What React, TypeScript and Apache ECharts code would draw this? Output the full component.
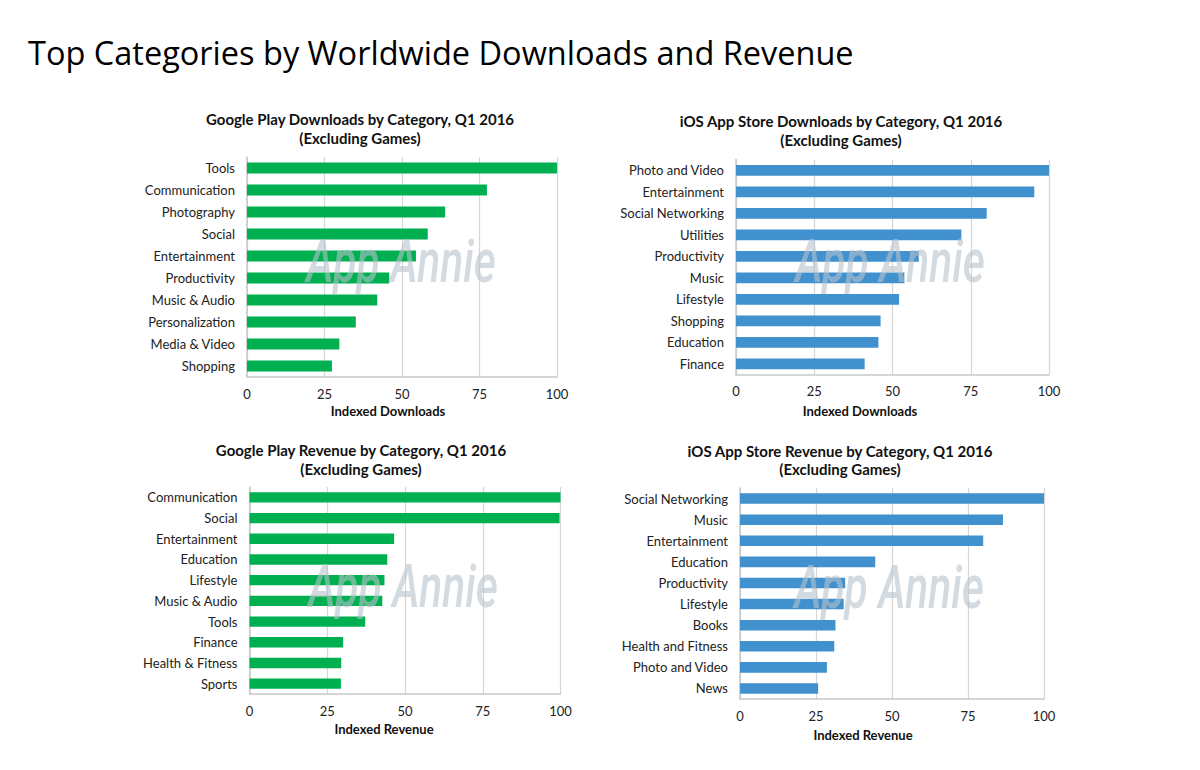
import React, { useEffect, useRef } from "react";
import * as echarts from "echarts";

const mainTitle = "Top Categories by Worldwide Downloads and Revenue";

const gpDlCats = ["Tools", "Communication", "Photography", "Social", "Entertainment", "Productivity", "Music & Audio", "Personalization", "Media & Video", "Shopping"];
const gpDlVals = [100, 77.4, 63.9, 58.3, 54.5, 45.9, 42.0, 35.1, 29.8, 27.4];

const iosDlCats = ["Photo and Video", "Entertainment", "Social Networking", "Utilities", "Productivity", "Music", "Lifestyle", "Shopping", "Education", "Finance"];
const iosDlVals = [100, 95.3, 80.1, 72.0, 58.4, 53.8, 52.1, 46.2, 45.5, 41.1];

const gpRevCats = ["Communication", "Social", "Entertainment", "Education", "Lifestyle", "Music & Audio", "Tools", "Finance", "Health & Fitness", "Sports"];
const gpRevVals = [100, 99.7, 46.5, 44.3, 43.4, 42.7, 37.2, 30.1, 29.5, 29.4];

const iosRevCats = ["Social Networking", "Music", "Entertainment", "Education", "Productivity", "Lifestyle", "Books", "Health and Fitness", "Photo and Video", "News"];
const iosRevVals = [100, 86.5, 80.0, 44.5, 34.6, 34.1, 31.4, 31.0, 28.6, 25.7];

const xMin = 0;
const xMax = 100;
const xStep = 25;

const panelTitles = [
  "Google Play Downloads by Category, Q1 2016\n(Excluding Games)",
  "iOS App Store Downloads by Category, Q1 2016\n(Excluding Games)",
  "Google Play Revenue by Category, Q1 2016\n(Excluding Games)",
  "iOS App Store Revenue by Category, Q1 2016\n(Excluding Games)",
];
const axisNames = ["Indexed Downloads", "Indexed Downloads", "Indexed Revenue", "Indexed Revenue"];

const GREEN = "#00b050";
const BLUE = "#4191cf";

const panels = [
  { cats: gpDlCats, vals: gpDlVals, color: GREEN, grid: { left: 247, top: 157, width: 310, height: 220 }, titleX: 360, titleY: 128.5, nameX: 388, nameY: 410.5, wmX: 401, wmY: 262 },
  { cats: iosDlCats, vals: iosDlVals, color: BLUE, grid: { left: 736, top: 159.5, width: 313, height: 215 }, titleX: 841, titleY: 130.5, nameX: 860, nameY: 411, wmX: 890, wmY: 262 },
  { cats: gpRevCats, vals: gpRevVals, color: GREEN, grid: { left: 249.5, top: 487, width: 311, height: 207 }, titleX: 361, titleY: 459.5, nameX: 384, nameY: 728.5, wmX: 403, wmY: 587 },
  { cats: iosRevCats, vals: iosRevVals, color: BLUE, grid: { left: 740, top: 488, width: 304, height: 211 }, titleX: 840, titleY: 460, nameX: 863, nameY: 735, wmX: 889, wmY: 588 },
];

const FONT = "Lato, 'Open Sans', sans-serif";

export default function App() {
  const ref = useRef<HTMLDivElement>(null);
  useEffect(() => {
    if (!ref.current) return;
    const chart = echarts.init(ref.current, null, { renderer: "svg" });
    const graphics: any[] = [
      {
        type: "text",
        x: 28,
        y: 52,
        style: { text: mainTitle, font: "normal 32.5px 'Open Sans', sans-serif", fill: "#000", textVerticalAlign: "middle" },
      },
    ];
    panels.forEach((p, i) => {
      graphics.push({
        type: "text",
        x: p.titleX,
        y: p.titleY,
        style: { text: panelTitles[i], font: `bold 15px ${FONT}`, fill: "#111", textAlign: "center", textVerticalAlign: "middle", lineHeight: 18.5 },
      });
      graphics.push({
        type: "text",
        x: p.nameX,
        y: p.nameY,
        style: { text: axisNames[i], font: `bold 13px ${FONT}`, fill: "#111", textAlign: "center", textVerticalAlign: "middle" },
      });
      graphics.push({
        type: "text",
        x: p.wmX,
        y: p.wmY,
        scaleX: 0.71,
        z: 100,
        silent: true,
        style: { text: "App Annie", font: "italic 500 60px Roboto, sans-serif", fill: "#b6c1cb", opacity: 0.6, textAlign: "center", textVerticalAlign: "middle" },
      });
    });

    const option: any = {
      animation: false,
      backgroundColor: "#fff",
      grid: panels.map((p) => ({ ...p.grid, containLabel: false })),
      xAxis: panels.map((p, i) => ({
        type: "value",
        gridIndex: i,
        min: xMin,
        max: xMax,
        interval: xStep,
        axisLine: { show: true, lineStyle: { color: "#c8c8c8", width: 1.5 } },
        axisTick: { show: false },
        splitLine: { show: true, lineStyle: { color: "#d6d6d6", width: 1.2 } },
        axisLabel: { fontFamily: FONT, fontSize: 13, color: "#222", margin: 10 },
      })),
      yAxis: panels.map((p, i) => ({
        type: "category",
        gridIndex: i,
        data: p.cats,
        inverse: true,
        axisLine: { show: true, lineStyle: { color: "#c8c8c8", width: 1.5 } },
        axisTick: { show: false },
        splitLine: { show: false },
        axisLabel: { fontFamily: FONT, fontSize: 13, color: "#222", margin: 12 },
      })),
      series: panels.map((p, i) => ({
        type: "bar",
        xAxisIndex: i,
        yAxisIndex: i,
        data: p.vals,
        barWidth: "50%",
        itemStyle: { color: p.color },
      })),
      graphic: graphics,
    };
    chart.setOption(option);
    return () => chart.dispose();
  }, []);
  return <div ref={ref} style={{ position: "fixed", left: 0, top: 0, width: 1200, height: 770, background: "#fff" }} />;
}
